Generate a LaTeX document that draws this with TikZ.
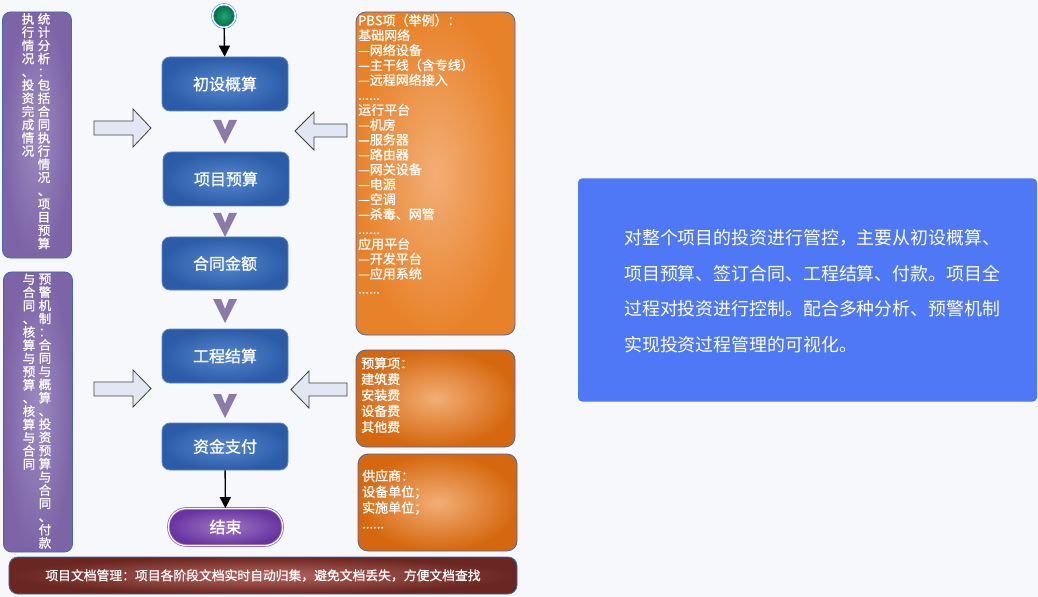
\documentclass[tikz,border=0pt]{standalone}
\usepackage{fontspec}
\setmainfont{Noto Sans CJK SC}
\newfontfamily\heavy{Noto Sans CJK SC}[FakeBold=0.8]
\usetikzlibrary{arrows.meta}

\definecolor{pagebg}{HTML}{F6F8FC}
\definecolor{flowdark}{HTML}{2C5CA7}
\definecolor{flowlight}{HTML}{5587CE}
\definecolor{flowedge}{HTML}{5A88CC}
\definecolor{orangelight}{HTML}{F2AE76}
\definecolor{orangedark}{HTML}{E8822A}
\definecolor{orangedeep}{HTML}{D5680F}
\definecolor{boxedge}{HTML}{4668AE}
\definecolor{violetlight}{HTML}{9D8AC0}
\definecolor{violetdark}{HTML}{7D64A7}
\definecolor{chevroncol}{HTML}{8A7BAA}
\definecolor{arrowfill}{HTML}{E2E7F4}
\definecolor{barlight}{HTML}{B5655E}
\definecolor{bardark}{HTML}{6A2621}
\definecolor{endlight}{HTML}{9F78C6}
\definecolor{enddark}{HTML}{6934A0}
\definecolor{startlight}{HTML}{22A574}
\definecolor{startdark}{HTML}{006A42}
\definecolor{ringblue}{HTML}{4A8CD0}
\definecolor{notecol}{HTML}{4E78F6}

% one character per line, columns stacked top-down
\newcommand\vcol[1]{\vtop{\baselineskip=13.2bp\lineskiplimit=-100bp\vcolnext#1\relax}}
\def\vcolnext#1{\ifx\relax#1\else\hbox to 14bp{\hss#1\hss}\expandafter\vcolnext\fi}

\begin{document}
\begin{tikzpicture}[x=1bp,y=-1bp,
  flowblock/.style={
    rectangle,
    rounded corners=8bp,
    draw=flowedge,
    line width=0.8bp,
    inner color=flowlight,
    outer color=flowdark,
    minimum width=126bp,
    minimum height=54bp,
    text=white,
    font=\heavy\fontsize{16bp}{19bp}\selectfont
  },
  orangeblock/.style={
    rectangle,
    rounded corners=10bp,
    draw=boxedge,
    line width=0.8bp,
    inner color=orangelight,
    outer color=orangedark,
    minimum width=159bp,
    minimum height=97bp
  },
  violetblock/.style={
    rectangle,
    rounded corners=8bp,
    draw=boxedge,
    line width=0.8bp,
    inner color=violetlight,
    outer color=violetdark,
    minimum width=69bp
  },
  listtext/.style={
    anchor=north west,
    inner sep=0pt,
    align=left,
    text=white,
    font=\heavy\fontsize{13bp}{15.9bp}\selectfont
  },
  vtext/.style={
    anchor=north,
    inner sep=0pt,
    text=white,
    font=\heavy\fontsize{12.5bp}{13.2bp}\selectfont
  },
  blockarrow/.style={
    draw=black!75,
    line width=0.8bp,
    fill=arrowfill
  },
  chevron/.style={fill=chevroncol},
  flowarrow/.style={
    draw=black,
    line width=1.4bp,
    -{Triangle[width=11bp,length=11bp]}
  }]
  \useasboundingbox[fill=pagebg] (0,0) rectangle (1038,597);

  % flow in the middle
  \node[circle, minimum size=23bp, inner sep=0pt, inner color=startlight,
    outer color=startdark, draw=ringblue, double=white, double distance=1.4bp,
    line width=0.6bp] (start) at (224,16) {};
  \node[flowblock] (plan) at (225,84) {初设概算};
  \node[flowblock] (budget) at (226,179) {项目预算};
  \node[flowblock, minimum height=53bp] (contract) at (225,263.5) {合同金额};
  \node[flowblock] (settle) at (225,356) {工程结算};
  \node[flowblock, minimum height=47bp] (pay) at (225,446.5) {资金支付};
  \node[rectangle, rounded corners=18bp, minimum width=114bp, minimum height=37bp,
    inner color=endlight, outer color=enddark, draw=enddark!80, double=white,
    double distance=1.2bp, line width=0.7bp, text=white,
    font=\heavy\fontsize{16bp}{19bp}\selectfont] (finish) at (225.5,527) {结束};
  \draw[flowarrow] (start) -- (plan);
  \draw[flowarrow] (pay) -- (finish);
  \foreach \cy in {120,213,299,394}
    \fill[chevron] (213,\cy) -- (221,\cy) -- (225,\cy+10) -- (229,\cy)
      -- (237,\cy) -- (225,\cy+24) -- cycle;

  % arrows from the sides
  \draw[blockarrow] (94,121) -- (133,121) -- (133,109) -- (151,128)
    -- (133,147) -- (133,135) -- (94,135) -- cycle;
  \draw[blockarrow] (94,382) -- (133,382) -- (133,370) -- (151,388.5)
    -- (133,407) -- (133,396) -- (94,396) -- cycle;
  \draw[blockarrow] (347,124) -- (314,124) -- (314,112) -- (295,131)
    -- (314,150) -- (314,137) -- (347,137) -- cycle;
  \draw[blockarrow] (347,383) -- (309,383) -- (309,371) -- (291,389.5)
    -- (309,408) -- (309,396) -- (347,396) -- cycle;

  % left: analysis and warning
  \node[violetblock, minimum height=246bp] (stats) at (37,135) {};
  \node[vtext] (statsR) at (44,13) {\vcol{统计分析：包括合同执行情况、项目预算}};
  \node[vtext] (statsL) at (28,13) {\vcol{执行情况、投资完成情况}};
  \node[violetblock, minimum height=280bp] (warn) at (38,412) {};
  \node[vtext] (warnR) at (45,273.5) {\vcol{预警机制：合同与概算、投资预算与合同、付款}};
  \node[vtext] (warnL) at (29,273.5) {\vcol{与合同、核算与预算、核算与合同}};

  % right: item lists
  \node[orangeblock, minimum height=323bp] (pbs) at (435.5,173.5) {};
  \node[listtext, font=\heavy\fontsize{13bp}{14.9bp}\selectfont] (pbsText) at (358,14)
    {PBS项（举例）：\\基础网络\\—网络设备\\—主干线（含专线）\\—远程网络接入\\......\\
     运行平台\\—机房\\—服务器\\—路由器\\—网关设备\\—电源\\—空调\\—杀毒、网管\\......\\
     应用平台\\—开发平台\\—应用系统\\......};
  \node[orangeblock, outer color=orangedeep] (items) at (435.5,398.5) {};
  \node[listtext] (itemsText) at (361,357)
    {预算项：\\建筑费\\安装费\\设备费\\其他费};
  \node[orangeblock, outer color=orangedeep] (vendor) at (437.5,502.5) {};
  \node[listtext] (vendorText) at (362,469.5)
    {供应商：\\设备单位；\\实施单位；\\......};

  % bottom bar
  \node[rectangle, rounded corners=9bp, draw=boxedge, line width=0.8bp,
    inner color=barlight, outer color=bardark, minimum width=508bp,
    minimum height=37bp, text=white,
    font=\heavy\fontsize{12.8bp}{15bp}\selectfont] (docs) at (263,575.5)
    {项目文档管理：项目各阶段文档实时自动归集，避免文档丢失，方便文档查找};

  % note on the right
  \node[rectangle, rounded corners=4bp, fill=notecol, minimum width=459bp,
    minimum height=223bp] (note) at (807.5,290) {};
  \node[anchor=west, inner sep=0pt, align=left, text=white,
    font=\fontsize{17.9bp}{35.6bp}\selectfont] (noteText) at (624,291)
    {对整个项目的投资进行管控，主要从初设概算、\\项目预算、签订合同、工程结算、付款。项目全\\
     过程对投资进行控制。配合多种分析、预警机制\\实现投资过程管理的可视化。};
\end{tikzpicture}
\end{document}
